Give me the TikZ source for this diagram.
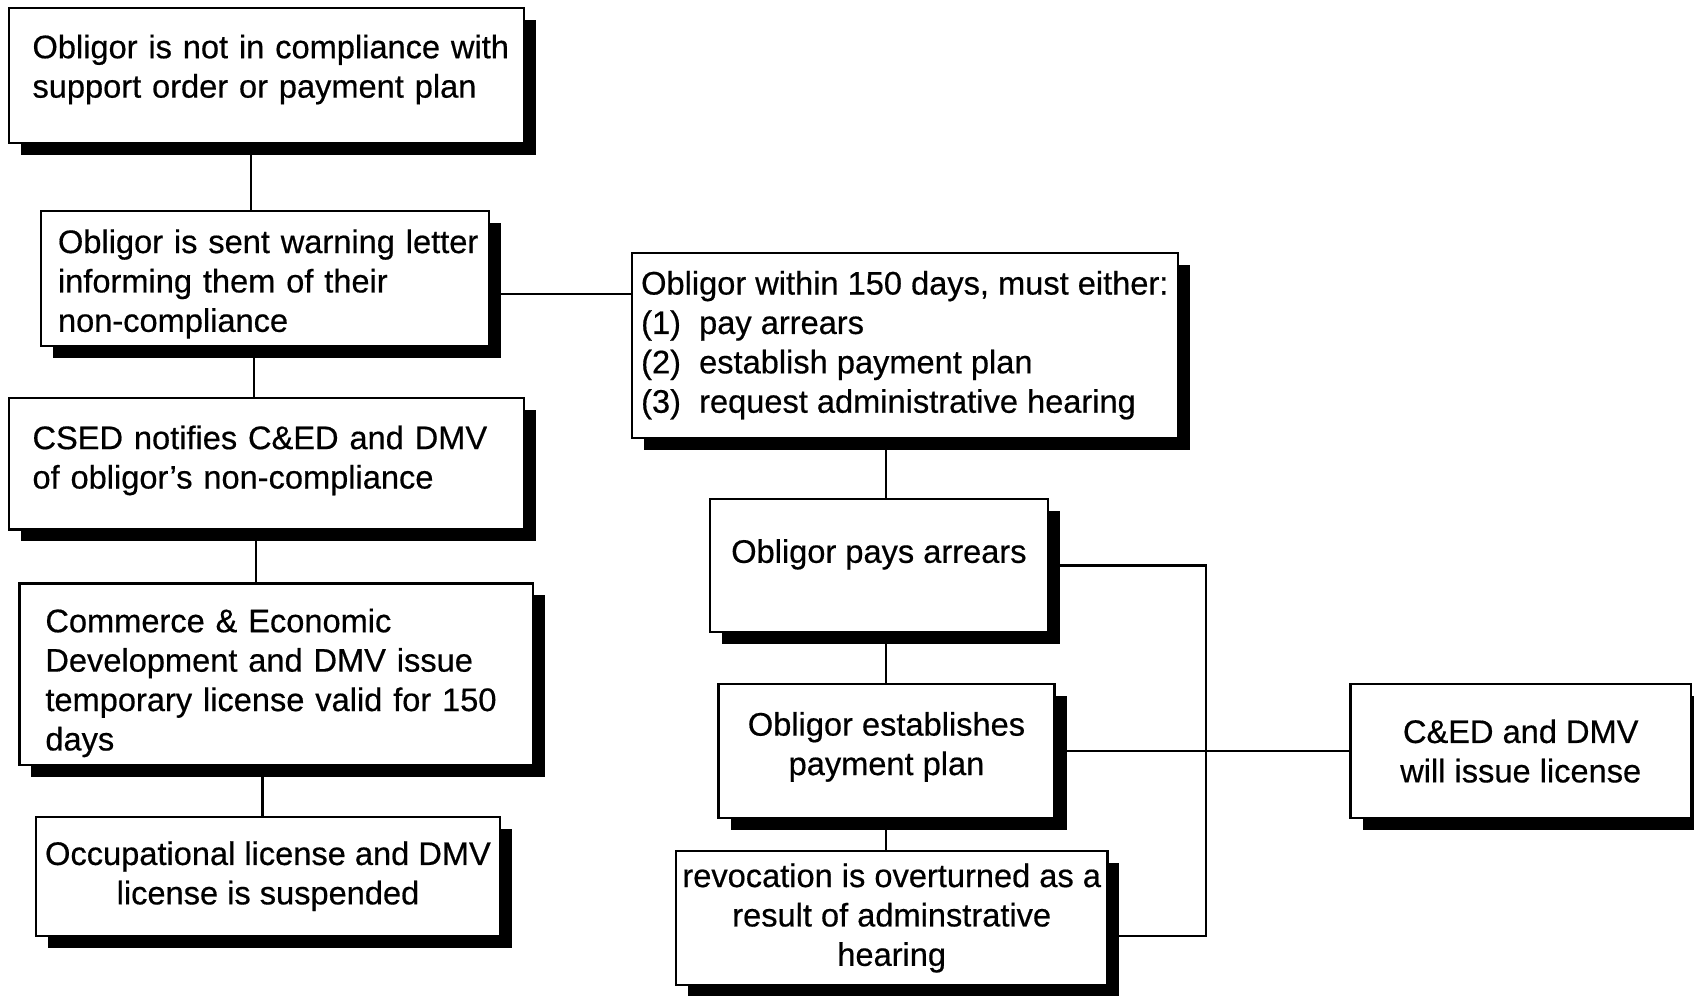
\documentclass[tikz,border=0pt]{standalone}
\usepackage{fontspec}
\setmainfont{Liberation Sans}[FakeBold=0.5]
\usetikzlibrary{shadows}
\newcommand\mylift[1]{\rule[-#1]{0pt}{#1}}
\newcommand\mytop[1]{\rule{0pt}{#1}}
\begin{document}
\begin{tikzpicture}[x=0.5pt,y=-0.5pt,
  box/.style={draw, line width=1.1pt, fill=white,
    general shadow={fill=black, shadow xshift=6pt, shadow yshift=-6pt},
    font=\fontsize{16.3pt}{19.7pt}\selectfont, inner ysep=2pt},
  leftbox/.style={box, align=left},
  ctrbox/.style={box, align=center, inner xsep=2pt},
  conn/.style={line width=1.1pt}]
\fill[white] (0,0) rectangle (1694,996);
\useasboundingbox (0,0) rectangle (1694,996);

% left column
\node[leftbox, minimum width=257.5pt, minimum height=67.5pt, inner xsep=11.7pt, text width=234pt] (b1) at (266.5,75.5)
  {\mbox{Obligor is not in compliance with}\\\mbox{support order or payment plan}\mylift{9.4pt}};
\node[leftbox, minimum width=224pt, minimum height=67.5pt, inner xsep=8.5pt, text width=207pt] (b2) at (265,278.5)
  {\mytop{17.3pt}\mbox{Obligor is sent warning letter}\\\mbox{informing them of their}\\\mbox{non-compliance}};
\node[leftbox, minimum width=257.5pt, minimum height=65.9pt, inner xsep=11.7pt, text width=234pt] (b3) at (266.5,463.5)
  {\mbox{CSED notifies C\&ED and DMV}\\\mbox{of obligor's non-compliance}\mylift{6.5pt}};
\node[leftbox, minimum width=256.6pt, minimum height=90.8pt, inner xsep=13pt, text width=230.6pt] (b4) at (276,674.2)
  {\mytop{20.5pt}\mbox{Commerce \& Economic}\\\mbox{Development and DMV issue}\\\mbox{temporary license valid for 150}\\\mbox{days}};
\node[ctrbox, minimum width=232.25pt, minimum height=59.4pt] (b5) at (268,876.2)
  {Occupational license and DMV\\license is suspended};

% right part
\node[leftbox, minimum width=272.8pt, minimum height=92.4pt, inner xsep=3pt] (r1) at (904.8,345.2)
  {Obligor within 150 days, must either:\\
   \makebox[29pt][l]{(1)}pay arrears\\
   \makebox[29pt][l]{(2)}establish payment plan\\
   \makebox[29pt][l]{(3)}request administrative hearing};
\node[ctrbox, minimum width=169.1pt, minimum height=66.5pt] (r2) at (878.9,565.5)
  {Obligor pays arrears\mylift{14.5pt}};
\node[ctrbox, minimum width=168pt, minimum height=67pt] (r3) at (886.5,751)
  {Obligor establishes\\payment plan\mylift{7.5pt}};
\node[ctrbox, minimum width=215.7pt, minimum height=67pt, inner xsep=0.5pt] (r4) at (891.7,918)
  {revocation is overturned as a\\result of adminstrative\\hearing};
\node[ctrbox, minimum width=170.25pt, minimum height=67pt] (r5) at (1520.75,751)
  {C\&ED and DMV\\will issue license};

% connector positions
\coordinate (v1) at (250.6,0);
\coordinate (v2) at (254,0);
\coordinate (v3) at (256,0);
\coordinate (v4) at (262.5,0);
\coordinate (vr) at (886,0);
\coordinate (h1) at (0,293.9);
\coordinate (jt) at (1205.7,565.5);
\coordinate (jb) at (1205.7,935.6);

\draw[conn] (b1.south -| v1) -- (b2.north -| v1);
\draw[conn] (b2.south -| v2) -- (b3.north -| v2);
\draw[conn] (b3.south -| v3) -- (b4.north -| v3);
\draw[conn] (b4.south -| v4) -- (b5.north -| v4);
\draw[conn] (b2.east |- h1) -- (r1.west |- h1);
\draw[conn] (r1.south -| vr) -- (r2.north -| vr);
\draw[conn] (r2.south -| vr) -- (r3.north -| vr);
\draw[conn] (r3.south -| vr) -- (r4.north -| vr);
\draw[conn] (r2.east) -- (jt) -- (jb) -- (r4.east |- jb);
\draw[conn] (r3.east) -- (r5.west);
\end{tikzpicture}
\end{document}
